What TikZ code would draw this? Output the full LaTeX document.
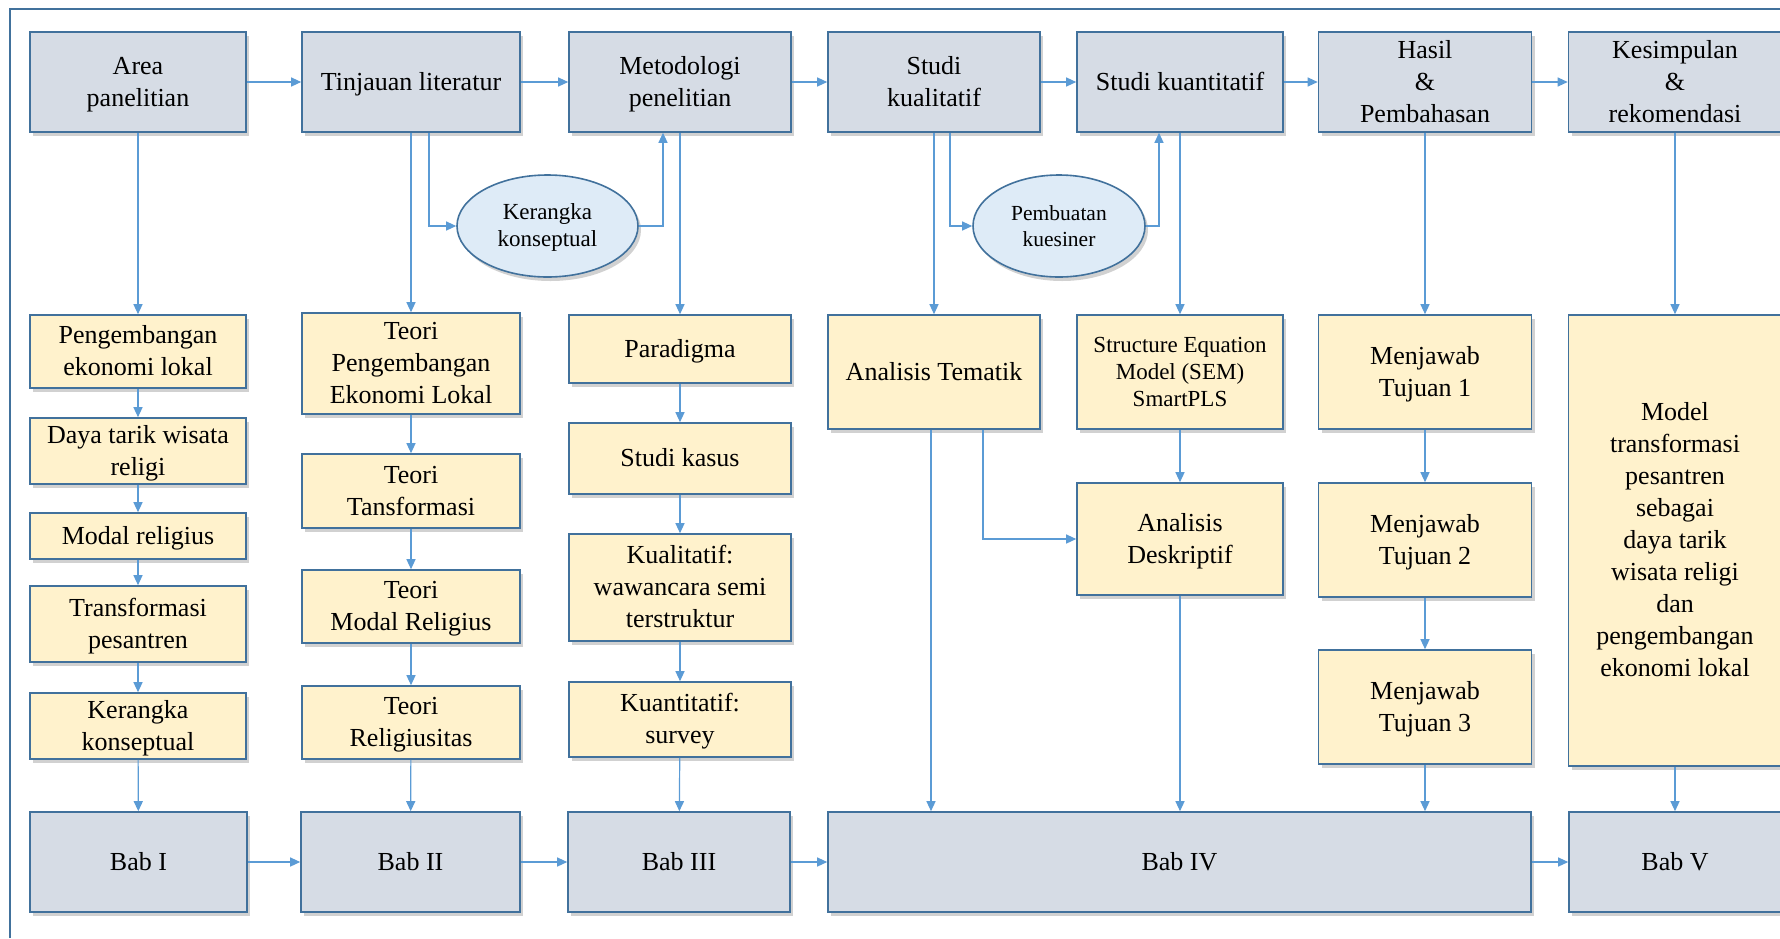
\documentclass[tikz,border=0pt]{standalone}
\usepackage{fontspec}
\setmainfont{Liberation Serif}
\usetikzlibrary{arrows.meta,shadows,shapes.geometric}
\definecolor{hdrfill}{HTML}{D6DCE5}
\definecolor{boxfill}{HTML}{FFF2CC}
\definecolor{ellfill}{HTML}{DEEBF7}
\definecolor{edgec}{HTML}{41719C}
\definecolor{arrc}{HTML}{5B9BD5}
\definecolor{framec}{HTML}{41719C}
\newcommand\boxtext[1]{\raisebox{-2pt}[\height][\depth]{\begin{tabular}{@{}c@{}}#1\end{tabular}}}
\begin{document}
\begin{tikzpicture}[x=1pt,y=-1pt,
 sz/.style 2 args={minimum width=#1pt, minimum height=#2pt},
 base/.style={draw=edgec, line width=1.6pt, inner sep=0pt, text=black,
   drop shadow={shadow xshift=3pt, shadow yshift=-4pt, opacity=0.3, fill=black!60}},
 hdr/.style={base, rectangle, fill=hdrfill, font=\fontsize{26}{32}\selectfont},
 ybox/.style={base, rectangle, fill=boxfill, font=\fontsize{26}{32}\selectfont},
 smallfont/.style={font=\fontsize{23}{27}\selectfont},
 ell/.style={base, ellipse, fill=ellfill, font=\fontsize{23}{27}\selectfont},
 arr/.style={draw=arrc, line width=1.2pt, -{Triangle[length=10pt,width=9pt]}},
]
\useasboundingbox (0,0) rectangle (1780,938);
\draw[framec, line width=2pt] (10,938) -- (10,9) -- (1780,9);

% top row
\node[hdr, sz={216}{100}] (area) at (138,82) {\boxtext{Area\\panelitian}};
\node[hdr, sz={218}{100}] (tinj) at (411,82) {\boxtext{Tinjauan literatur}};
\node[hdr, sz={222}{100}] (meto) at (680,82) {\boxtext{Metodologi\\penelitian}};
\node[hdr, sz={212}{100}] (kual) at (934,82) {\boxtext{Studi\\kualitatif}};
\node[hdr, sz={206}{100}] (kuan) at (1180,82) {\boxtext{Studi kuantitatif}};
\node[hdr, sz={213}{100}] (hasil) at (1425,82) {\boxtext{Hasil\\\&\\Pembahasan}};
\node[hdr, sz={213}{100}] (kesim) at (1675,82) {\boxtext{Kesimpulan\\\&\\rekomendasi}};

% ellipses
\node[ell, sz={181}{102}] (kk) at (547.5,226) {\boxtext{Kerangka\\konseptual}};
\node[ell, font=\fontsize{21.5}{26}\selectfont, sz={172}{102}] (pk) at (1059,226) {\boxtext{Pembuatan\\kuesiner}};

% column 1
\node[ybox, sz={216}{73}] (peng) at (138,351.5) {\boxtext{Pengembangan\\ekonomi lokal}};
\node[ybox, sz={216}{66}] (daya) at (138,451) {\boxtext{Daya tarik wisata\\religi}};
\node[ybox, sz={216}{46}] (modal) at (138,536) {\boxtext{Modal religius}};
\node[ybox, sz={216}{76}] (trans) at (138,624) {\boxtext{Transformasi\\pesantren}};
\node[ybox, sz={216}{66}] (keran) at (138,726) {\boxtext{Kerangka\\konseptual}};

% column 2
\node[ybox, sz={218}{101}] (tpel) at (411,363.5) {\boxtext{Teori\\Pengembangan\\Ekonomi Lokal}};
\node[ybox, sz={218}{74}] (ttrans) at (411,491) {\boxtext{Teori\\Tansformasi}};
\node[ybox, sz={218}{73}] (tmodal) at (411,606.5) {\boxtext{Teori\\Modal Religius}};
\node[ybox, sz={218}{73}] (trel) at (411,722.5) {\boxtext{Teori\\Religiusitas}};

% column 3
\node[ybox, sz={222}{68}] (para) at (680,349) {\boxtext{Paradigma}};
\node[ybox, sz={222}{71}] (kasus) at (680,458.5) {\boxtext{Studi kasus}};
\node[ybox, sz={222}{107}] (kuali) at (680,587.5) {\boxtext{Kualitatif:\\wawancara semi\\terstruktur}};
\node[ybox, sz={222}{75}] (kuanti) at (680,719.5) {\boxtext{Kuantitatif:\\survey}};

% columns 4-7
\node[ybox, sz={212}{114}] (at) at (934,372) {\boxtext{Analisis Tematik}};
\node[ybox, smallfont, sz={206}{114}] (sem) at (1180,372) {\boxtext{Structure Equation\\Model (SEM)\\SmartPLS}};
\node[ybox, sz={206}{112}] (ad) at (1180,539) {\boxtext{Analisis\\Deskriptif}};
\node[ybox, sz={213}{114}] (m1) at (1425,372) {\boxtext{Menjawab\\Tujuan 1}};
\node[ybox, sz={213}{114}] (m2) at (1425,540) {\boxtext{Menjawab\\Tujuan 2}};
\node[ybox, sz={213}{114}] (m3) at (1425,707) {\boxtext{Menjawab\\Tujuan 3}};
\node[ybox, sz={213}{451}] (model) at (1675,540.5) {\boxtext{Model\\transformasi\\pesantren\\sebagai\\daya tarik\\wisata religi\\dan\\pengembangan\\ekonomi lokal}};

% bottom row
\node[hdr, sz={217}{100}] (bab1) at (138.5,862) {\boxtext{Bab I}};
\node[hdr, sz={219}{100}] (bab2) at (410.5,862) {\boxtext{Bab II}};
\node[hdr, sz={222}{100}] (bab3) at (679,862) {\boxtext{Bab III}};
\node[hdr, sz={703}{100}] (bab4) at (1179.5,862) {\boxtext{Bab IV}};
\node[hdr, sz={212}{100}] (bab5) at (1675,862) {\boxtext{Bab V}};

% top horizontal arrows
\draw[arr] (area.east) -- (tinj.west);
\draw[arr] (tinj.east) -- (meto.west);
\draw[arr] (meto.east) -- (kual.west);
\draw[arr] (kual.east) -- (kuan.west);
\draw[arr] (kuan.east) -- (hasil.west);
\draw[arr] (hasil.east) -- (kesim.west);

% top to middle
\draw[arr] (area.south) -- (peng.north);
\draw[arr] (tinj.south) -- (tpel.north);
\draw[arr] (meto.south) -- (para.north);
\draw[arr] (kual.south) -- (at.north);
\draw[arr] (kuan.south) -- (sem.north);
\draw[arr] (hasil.south) -- (m1.north);
\draw[arr] (kesim.south) -- (model.north);

% branches via ellipses
\draw[arr] ([xshift=18pt]tinj.south) |- (kk.west);
\draw[arr] (kk.east) -| ([xshift=-17pt]meto.south);
\draw[arr] ([xshift=16pt]kual.south) |- (pk.west);
\draw[arr] (pk.east) -| ([xshift=-21pt]kuan.south);

% column chains
\draw[arr] (peng) -- (daya);
\draw[arr] (daya) -- (modal);
\draw[arr] (modal) -- (trans);
\draw[arr] (trans) -- (keran);
\draw[arr] (keran) -- (bab1);
\draw[arr] (tpel) -- (ttrans);
\draw[arr] (ttrans) -- (tmodal);
\draw[arr] (tmodal) -- (trel);
\draw[arr] (trel) -- (bab2);
\draw[arr] (para) -- (kasus);
\draw[arr] (kasus) -- (kuali);
\draw[arr] (kuali) -- (kuanti);
\draw[arr] (kuanti) -- (bab3);
\draw[arr] ([xshift=-3pt]at.south) -- ([xshift=-3pt]at.south |- bab4.north);
\draw[arr] ([xshift=49pt]at.south) |- (ad.west);
\draw[arr] (sem) -- (ad);
\draw[arr] (ad.south) -- (ad.south |- bab4.north);
\draw[arr] (m1) -- (m2);
\draw[arr] (m2) -- (m3);
\draw[arr] (m3.south) -- (m3.south |- bab4.north);
\draw[arr] (model) -- (bab5);

% bottom horizontal arrows
\draw[arr] (bab1.east) -- (bab2.west);
\draw[arr] (bab2.east) -- (bab3.west);
\draw[arr] (bab3.east) -- (bab4.west);
\draw[arr] (bab4.east) -- (bab5.west);
\end{tikzpicture}
\end{document}
